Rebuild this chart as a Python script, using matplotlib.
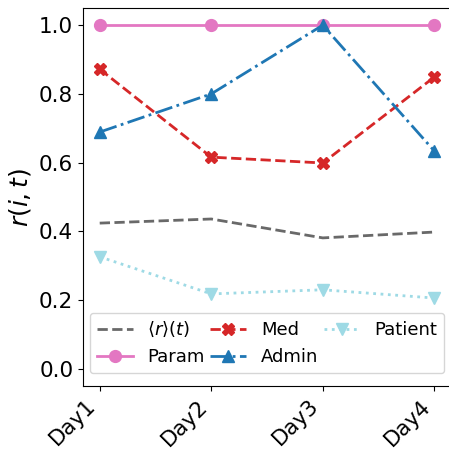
import matplotlib
matplotlib.use("Agg")
import matplotlib.pyplot as plt

days = ["Day1", "Day2", "Day3", "Day4"]
mean_r = [0.424, 0.436, 0.381, 0.398]
param = [1.0, 1.0, 1.0, 1.0]
med = [0.872, 0.616, 0.599, 0.849]
admin = [0.689, 0.800, 1.0, 0.634]
patient = [0.326, 0.218, 0.230, 0.206]

fig = plt.figure(figsize=(4.49, 4.5), dpi=100)
ax = fig.add_axes([83/449, 64/450, 368/449, 378/450])
x = range(len(days))
ax.plot(x, mean_r, ls='--', color='dimgray', lw=2, label=r'$\langle r\rangle(t)$')
ax.plot(x, param, ls='-', marker='o', color='#e377c2', lw=2, ms=8.5, label='Param')
ax.plot(x, med, ls='--', marker='X', color='#d62728', lw=2, ms=8.5, label='Med')
ax.plot(x, admin, ls='-.', marker='^', color='#1f77b4', lw=2, ms=8.5, label='Admin')
ax.plot(x, patient, ls=':', marker='v', color='#9edae5', lw=2, ms=8.5, label='Patient')

ax.set_ylim(-0.05, 1.05)
ax.set_xlim(-0.15, 3.15)
ax.set_xticks(list(x))
ax.set_xticklabels(days, rotation=45, ha='right', fontsize=15.5)
ax.set_yticks([0.0, 0.2, 0.4, 0.6, 0.8, 1.0])
ax.tick_params(axis='y', labelsize=15.5)
ax.set_ylabel(r'$r(i,t)$', fontsize=18)
ax.legend(ncol=3, loc='lower center', fontsize=13, columnspacing=0.3,
          handletextpad=0.8, borderaxespad=0.7)
fig.savefig("out.png", dpi=100)
